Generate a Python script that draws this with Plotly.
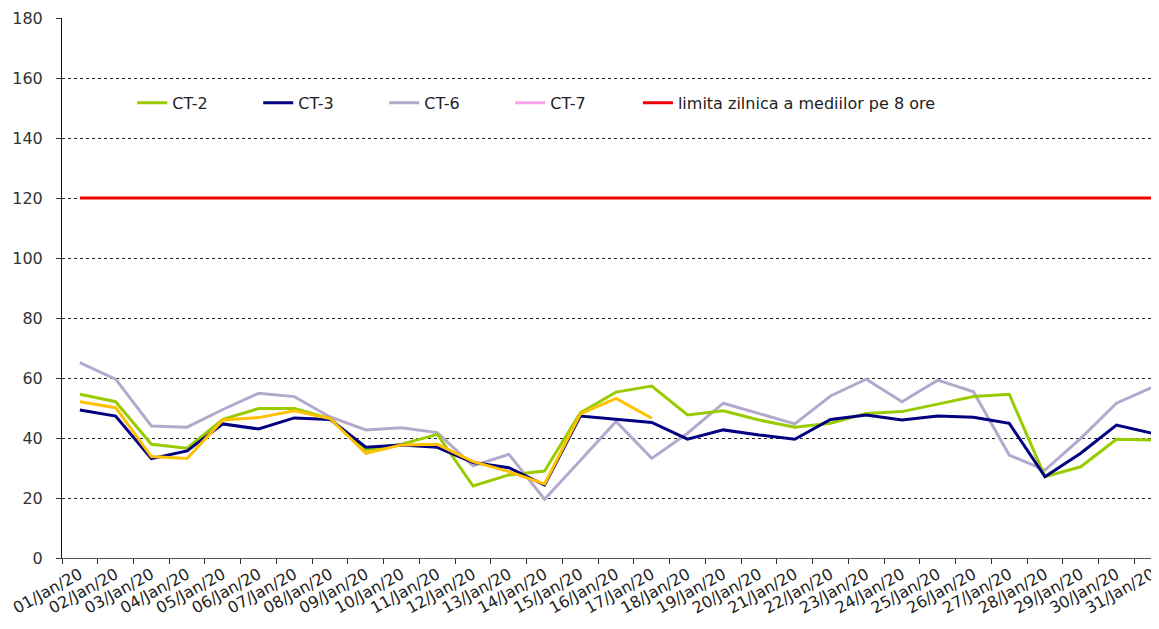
import plotly.graph_objects as go

# daily 8h averages, January 2020
dates = ["%02d/Jan/20" % d for d in range(1, 32)]

ct2 = [54.6, 52.1, 37.9, 36.6, 46.2, 49.8, 49.8, 46.5, 36.0, 37.9, 41.2,
       24.0, 27.7, 29.0, 48.4, 55.3, 57.3, 47.7, 49.1, 46.0, 43.6, 44.9,
       48.2, 48.8, 51.3, 53.8, 54.6, 27.1, 30.4, 39.6, 39.3]
ct3 = [49.3, 47.3, 33.1, 35.7, 44.7, 43.0, 46.7, 46.2, 36.9, 37.7, 36.9,
       31.8, 30.1, 24.3, 47.3, 46.2, 45.2, 39.6, 42.7, 41.0, 39.6, 46.2,
       47.7, 46.0, 47.3, 46.9, 44.9, 27.1, 34.9, 44.3, 41.6]
ct6 = [65.1, 59.6, 44.0, 43.6, 49.5, 54.9, 53.8, 47.0, 42.7, 43.4, 41.8,
       30.7, 34.6, 19.6, 32.5, 45.5, 33.2, 41.6, 51.6, 48.2, 44.7, 54.0,
       59.6, 52.1, 59.3, 55.4, 34.3, 29.3, 39.9, 51.6, 56.9]
ct7 = [52.1, 50.1, 33.8, 33.2, 46.0, 46.8, 49.1, 46.5, 34.9, 37.7, 37.9,
       32.1, 28.8, 24.7, 48.0, 53.2, 46.6] + [None] * 14
limita = 120

fig = go.Figure()

fig.add_trace(go.Scatter(x=dates, y=ct6, name="CT-6", mode="lines",
                         line=dict(color="#B4A9CC", width=3), legendrank=3))
fig.add_trace(go.Scatter(x=dates, y=ct2, name="CT-2", mode="lines",
                         line=dict(color="#99CC00", width=3), legendrank=1))
fig.add_trace(go.Scatter(x=dates, y=ct3, name="CT-3", mode="lines",
                         line=dict(color="#000080", width=3), legendrank=2))
fig.add_trace(go.Scatter(x=dates, y=ct7, name="CT-7", mode="lines",
                         line=dict(color="#FFC000", width=3), showlegend=False))
# legend entry for CT-7 (pink in the original legend)
fig.add_trace(go.Scatter(x=[dates[0]], y=[None], name="CT-7", mode="lines",
                         line=dict(color="#F8A3EE", width=3), legendrank=4))
fig.add_trace(go.Scatter(x=dates, y=[limita] * len(dates),
                         name="limita zilnica a mediilor pe 8 ore", mode="lines",
                         line=dict(color="#EE0000", width=3), legend="legend2"))

# page body has an 8px margin, so the figure is a bit smaller than the window
legfont = dict(family="DejaVu Sans, sans-serif", size=16, color="#222222")
fig.update_layout(
    width=1151, height=621,
    margin=dict(l=54, r=0, t=10, b=71),
    paper_bgcolor="white", plot_bgcolor="white",
    font=dict(family="DejaVu Sans, sans-serif", color="#333333"),
    showlegend=True,
    legend=dict(orientation="h", x=0.064, y=0.843, xanchor="left", yanchor="middle",
                entrywidth=81, entrywidthmode="pixels",
                font=legfont, bgcolor="rgba(0,0,0,0)", traceorder="normal"),
    legend2=dict(orientation="h", x=0.525, y=0.843, xanchor="left", yanchor="middle",
                 font=legfont, bgcolor="rgba(0,0,0,0)"),
)

fig.update_xaxes(
    type="category", range=[-0.5, 30.19], automargin=False,
    showline=True, linecolor="#555555", linewidth=1,
    ticks="outside", tickson="boundaries", ticklen=5, tickcolor="#333333",
    tickangle=-29, tickfont=dict(size=16, color="#222222"),
    showgrid=False, zeroline=False,
)
fig.update_yaxes(
    range=[0, 180], dtick=20, automargin=False,
    showline=True, linecolor="#111111", linewidth=1,
    ticks="outside", ticklen=5, tickcolor="#333333", ticklabelstandoff=10,
    tickfont=dict(size=16, color="#333333"),
    showgrid=True, gridcolor="#222222", gridwidth=1, griddash="dot",
    zeroline=False,
)

fig.write_html("out.html")
